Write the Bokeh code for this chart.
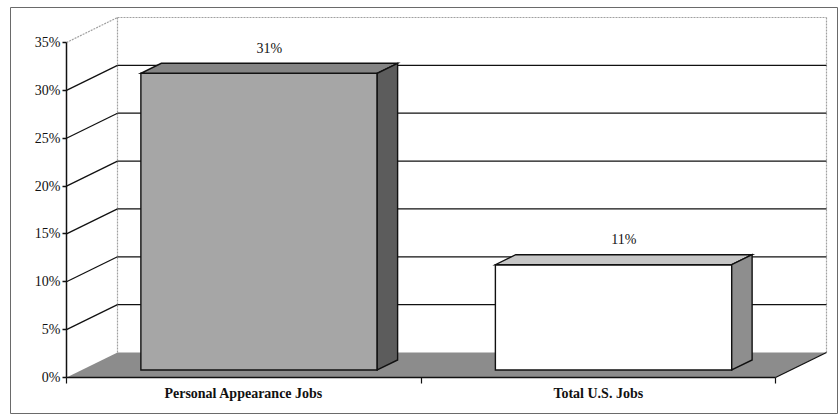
from bokeh.plotting import figure
from bokeh.models import (Range1d, LinearAxis, FixedTicker, PrintfTickFormatter,
                          ColumnDataSource)
from bokeh.core.properties import value
from bokeh.embed import file_html
from bokeh.resources import INLINE

# --- data -------------------------------------------------------------
categories = ["Personal Appearance Jobs", "Total U.S. Jobs"]
shares = [31, 11]                      # percent of jobs
y_ticks = [0, 5, 10, 15, 20, 25, 30, 35]
y_max = 35

# --- layout constants (pixels) ------------------------------------------
W, H = 838, 418
frame_left, frame_top = 10, 7
frame_right, frame_bottom = 838, 413
origin_px = (66, 377)                  # where the front floor corner sits
px_per_cat = 354.5
px_per_pct = 335 / 35
depth_px = (51, 25)                    # oblique offset of the back wall

DX = depth_px[0] / px_per_cat          # depth offset in category units
DY = depth_px[1] / px_per_pct          # depth offset in percent units

x_start = (frame_left - origin_px[0]) / px_per_cat
x_end = (frame_right - origin_px[0]) / px_per_cat
y_end = (origin_px[1] - frame_top) / px_per_pct
y_start = -(frame_bottom - origin_px[1]) / px_per_pct

p = figure(width=W, height=H, output_backend="svg", toolbar_location=None,
           x_range=Range1d(x_start, x_end), y_range=Range1d(y_start, y_end),
           min_border_left=frame_left, min_border_right=W - frame_right,
           min_border_top=frame_top, min_border_bottom=H - frame_bottom,
           x_axis_type=None, y_axis_type=None)
p.grid.visible = False
p.outline_line_color = "#6a6a6a"
p.outline_line_width = 1
p.background_fill_color = "white"
p.border_fill_color = "white"

n = len(categories)


def at(x, y, d):
    """Project a point (category x, percent y) at depth fraction d."""
    return x + d * DX, y + d * DY


def quad(points):
    xs = [pt[0] for pt in points]
    ys = [pt[1] for pt in points]
    return xs, ys


# --- walls ----------------------------------------------------------------
wall_grey = "#a0a0a0"
bx, by = quad([at(0, 0, 1), at(n, 0, 1), at(n, y_max, 1), at(0, y_max, 1)])
p.patch(bx, by, fill_color="white", line_color=None)
lx, ly = quad([at(0, 0, 0), at(0, y_max, 0), at(0, y_max, 1), at(0, 0, 1)])
p.patch(lx, ly, fill_color="white", line_color=None)

# wall edges
edge_x0, edge_y0, edge_x1, edge_y1 = [], [], [], []
for a, b in [((0, y_max, 0), (0, y_max, 1)), ((0, y_max, 1), (n, y_max, 1)),
             ((0, 0, 1), (0, y_max, 1)), ((n, 0, 1), (n, y_max, 1))]:
    pa, pb = at(*a), at(*b)
    edge_x0.append(pa[0]); edge_y0.append(pa[1])
    edge_x1.append(pb[0]); edge_y1.append(pb[1])
p.segment(edge_x0, edge_y0, edge_x1, edge_y1, line_color=wall_grey,
          line_width=1.2, line_dash="2 1")

# gridlines on side and back walls
gx0, gy0, gx1, gy1 = [], [], [], []
for t in y_ticks:
    if t == 0 or t == y_max:
        continue
    a, b, c = at(0, t, 0), at(0, t, 1), at(n, t, 1)
    gx0 += [a[0], b[0]]; gy0 += [a[1], b[1]]
    gx1 += [b[0], c[0]]; gy1 += [b[1], c[1]]
p.segment(gx0, gy0, gx1, gy1, line_color="#111111", line_width=1.3)

# --- floor ----------------------------------------------------------------
fx, fy = quad([at(0, 0, 0), at(n, 0, 0), at(n, 0, 1), at(0, 0, 1)])
p.patch(fx, fy, fill_color="#8c8c8c", line_color=None)
r0, r1 = at(n, 0, 0), at(n, 0, 1)
p.segment([r0[0]], [r0[1]], [r1[0]], [r1[1]], line_color="#111111", line_width=1.3)

# --- 3D columns -------------------------------------------------------------
face_colors = [
    ("#a6a6a6", "#848484", "#5c5c5c"),   # front, top, side
    ("#ffffff", "#c6c6c6", "#8e8e8e"),
]
half_w = 1 / 3
d_front, d_back = 0.3, 0.7
label_x, label_y, label_txt = [], [], []
for i, v in enumerate(shares):
    c = i + 0.5
    x0, x1 = c - half_w, c + half_w
    front, top, side = face_colors[i]
    fxs, fys = quad([at(x0, 0, d_front), at(x1, 0, d_front),
                     at(x1, v, d_front), at(x0, v, d_front)])
    txs, tys = quad([at(x0, v, d_front), at(x1, v, d_front),
                     at(x1, v, d_back), at(x0, v, d_back)])
    sxs, sys_ = quad([at(x1, 0, d_front), at(x1, v, d_front),
                      at(x1, v, d_back), at(x1, 0, d_back)])
    for xs, ys, col in [(fxs, fys, front), (txs, tys, top), (sxs, sys_, side)]:
        p.patch(xs, ys, fill_color=col, line_color="#111111", line_width=1.4,
                line_join="miter")
    lxp, lyp = at(c, v, 0.5)
    label_x.append(lxp)
    label_y.append(v + d_back * DY)
    label_txt.append(f"{v}%")

labels = ColumnDataSource(dict(x=label_x, y=label_y, text=label_txt))
p.text(x="x", y="y", text="text", source=labels, text_align="center",
       text_baseline="middle", y_offset=-15, text_font=value("Liberation Serif"),
       text_font_size="14px", text_color="#111111")

# --- axes -------------------------------------------------------------------
yaxis = LinearAxis(fixed_location=0, bounds=(0, y_max),
                   ticker=FixedTicker(ticks=y_ticks),
                   formatter=PrintfTickFormatter(format="%d%%"))
yaxis.major_tick_out = 4
yaxis.major_tick_in = 0
yaxis.minor_tick_line_color = None
yaxis.major_label_standoff = 2
yaxis.major_label_text_font = "Liberation Serif"
yaxis.major_label_text_font_size = "14px"
yaxis.major_label_text_color = "#111111"
yaxis.axis_line_color = "#111111"
yaxis.axis_line_width = 1.5
yaxis.major_tick_line_color = "#111111"
yaxis.major_tick_line_width = 1.3
p.add_layout(yaxis, "left")

# category axis: labels on the major ticks, boundary marks as minor ticks
cat_centers = [i + 0.5 for i in range(n)]
xaxis = LinearAxis(fixed_location=0, bounds=(0, n),
                   ticker=FixedTicker(ticks=cat_centers,
                                      minor_ticks=list(range(n + 1))),
                   major_label_overrides={c: name for c, name in zip(cat_centers, categories)})
xaxis.axis_line_color = "#111111"
xaxis.axis_line_width = 1.5
xaxis.major_tick_line_color = None
xaxis.major_tick_out = 0
xaxis.major_tick_in = 0
xaxis.minor_tick_line_color = "#111111"
xaxis.minor_tick_line_width = 1.2
xaxis.minor_tick_out = 6
xaxis.minor_tick_in = 0
xaxis.major_label_standoff = 2
xaxis.major_label_text_font = "Liberation Serif"
xaxis.major_label_text_font_style = "bold"
xaxis.major_label_text_font_size = "14px"
xaxis.major_label_text_color = "#111111"
p.add_layout(xaxis, "below")

open("out.html", "w").write(file_html(p, INLINE))
